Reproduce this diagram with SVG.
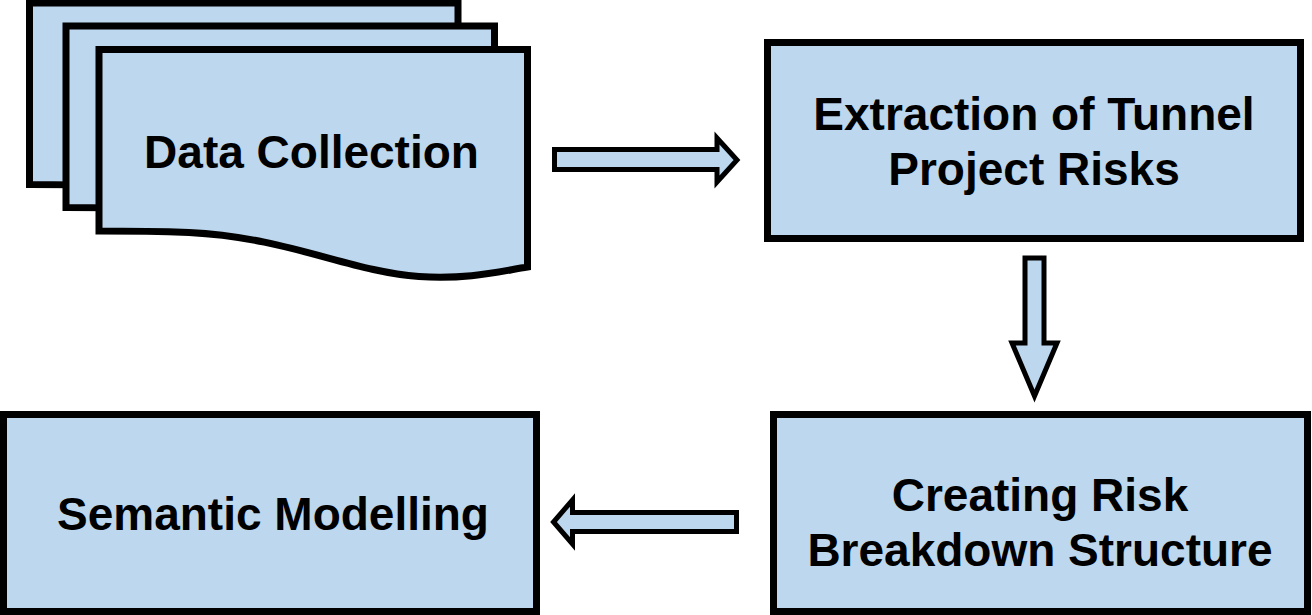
<svg xmlns="http://www.w3.org/2000/svg" xmlns:xlink="http://www.w3.org/1999/xlink" width="1312" height="615" viewBox="0 0 1312 615">
<style>
.shape{fill:#BDD7EE;stroke:#000;stroke-width:7;stroke-linejoin:miter}
.arrow{fill:#BDD7EE;stroke:#000;stroke-width:5;stroke-linejoin:miter}
.label{font-family:"Liberation Sans",Arial,sans-serif;font-weight:bold;font-size:46px;fill:#000;text-anchor:middle}
</style>
<defs>
<path id="doc" d="M0,0 H428.5 V217.5 C400,222 370,230 320,227 C250,222 190,188 90,183 C50,181.5 20,181.5 0,181.5 Z"/>
</defs>
<rect width="1312" height="615" fill="#fff"/>
<g id="data-collection">
<use xlink:href="#doc" class="shape" transform="translate(29.5,3)"/>
<use xlink:href="#doc" class="shape" transform="translate(66,26)"/>
<use xlink:href="#doc" class="shape" transform="translate(99,49.5)"/>
<text class="label" x="311.5" y="168">Data Collection</text>
</g>
<g id="extraction">
<rect class="shape" x="767.5" y="42.5" width="533" height="196"/>
<text class="label" x="1034" y="130">Extraction of Tunnel</text>
<text class="label" x="1034" y="185">Project Risks</text>
</g>
<g id="rbs">
<rect class="shape" x="773.5" y="414.5" width="534" height="197"/>
<text class="label" x="1040" y="511">Creating Risk</text>
<text class="label" x="1040" y="566">Breakdown Structure</text>
</g>
<g id="semantic">
<rect class="shape" x="3.5" y="414.5" width="533" height="197"/>
<text class="label" x="273" y="530">Semantic Modelling</text>
</g>
<g id="connectors">
<polygon class="arrow" points="554.5,149.5 717,149.5 717,138 737,160 717,182 717,169.5 554.5,169.5"/>
<polygon class="arrow" points="1025,258 1044,258 1044,343 1057,343 1034.5,396 1012,343 1025,343"/>
<polygon class="arrow" points="736.5,512.5 572.5,512.5 572.5,500 553.5,522 572.5,544 572.5,531.5 736.5,531.5"/>
</g>
</svg>
